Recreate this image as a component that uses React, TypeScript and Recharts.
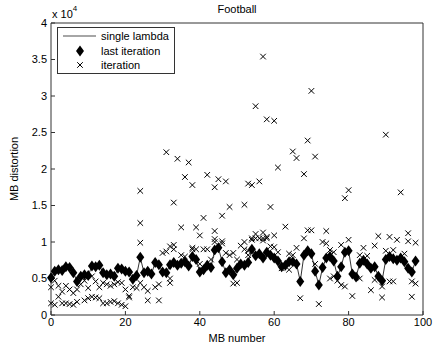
import { ComposedChart, Line, Scatter, XAxis, YAxis } from 'recharts';

// MB distortion per macroblock (index = MB number)
const singleLambda = [
  5100, 6000, 6200, 6100, 6600, 6500, 5800, 4600, 5300, 5500,
  5400, 6700, 6600, 6800, 5800, 5500, 5600, 5300, 6400, 6300,
  6000, 5900, 4900, 5400, 7900, 5800, 6000, 5600, 7200, 6900,
  5900, 5800, 6900, 7200, 6800, 7100, 7300, 6700, 8000, 7600,
  5900, 6200, 6800, 6500, 8900, 9200, 7300, 5800, 6200, 5500,
  6400, 7000, 6800, 7200, 9000, 8100, 8400, 7800, 8600, 8200,
  7800, 7400, 6600, 6800, 7300, 7300, 7000, 4600, 8200, 8800,
  8400, 6000, 4100, 6500, 7800, 8000, 7400, 5300, 6600, 8600,
  8800, 5600, 5200, 7100, 7500, 7000, 6400, 6600, 5300, 4700,
  7600, 8000, 7700, 7500, 7800, 7300, 6400, 5900, 7400,
];

// last iteration sits on the single lambda curve
const lastIteration = singleLambda;

// [MB number, distortion] for the intermediate iterations
const iterationPoints: [number, number][] = [
  [24, 17000], [24, 12600], [24, 9900], [31, 22300], [31, 8700], [33, 15400],
  [32, 9400], [33, 9000], [34, 21400], [35, 12000], [36, 18900], [37, 20900],
  [38, 17800], [38, 9000], [39, 9000], [39, 12000], [40, 10900], [41, 13300],
  [42, 19200], [42, 9000], [44, 17500], [44, 11500], [44, 10400], [45, 18600],
  [46, 13600], [46, 10100], [47, 18300], [48, 14800], [48, 8200], [52, 15100],
  [52, 10000], [53, 18000], [53, 8800], [54, 17800], [54, 10300], [55, 28600],
  [55, 10500], [56, 18300], [57, 35400], [57, 11300], [57, 10500], [58, 26800],
  [58, 10500], [59, 14800], [60, 26600], [60, 10900], [61, 20200], [63, 12100],
  [65, 22400], [66, 21500], [66, 9200], [68, 19300], [68, 10500], [69, 23900],
  [69, 11600], [70, 30700], [70, 11600], [71, 21700], [73, 10000], [74, 9800],
  [74, 11500], [78, 9600], [79, 16000], [80, 17100], [80, 10300], [84, 9200],
  [87, 9500], [88, 10800], [90, 24700], [91, 10700], [93, 10300], [94, 16800],
  [96, 11200], [96, 10100], [98, 9900],
  [30, 8500], [33, 9600], [38, 9200], [41, 9000], [44, 10000], [46, 9800],
  [47, 8500], [49, 8500], [51, 9500], [52, 9000], [54, 10500], [55, 11100],
  [56, 10500], [57, 10200], [58, 10700], [60, 9300],
  [35, 8200], [36, 8000], [40, 7000], [43, 7600], [50, 7600], [53, 8200],
  [59, 9400], [61, 8600], [64, 8400], [65, 8200], [71, 7000], [75, 8900],
  [76, 8600], [83, 8200], [85, 8100], [90, 8800], [92, 8900], [95, 8400],
  [0, 1600], [1, 1400], [2, 2500], [3, 1600], [4, 1600], [5, 1500], [6, 1400],
  [7, 1800], [9, 2000], [10, 2300], [11, 2500], [12, 2400], [13, 2300],
  [14, 1600], [15, 1600], [16, 1800], [17, 1900], [18, 1600], [19, 1400],
  [20, 1200], [21, 2400], [26, 2000], [29, 2000],
  [0, 3800], [1, 4700], [2, 4000], [3, 3200], [4, 4000], [5, 3500], [6, 3000],
  [7, 3500], [8, 4200], [9, 4700], [10, 3700], [11, 5300], [12, 4600],
  [13, 3800], [14, 4400], [15, 4200], [16, 4000], [17, 4200], [18, 4500],
  [19, 4400], [20, 3500], [21, 2600], [22, 3800], [23, 3700], [24, 4400],
  [25, 3800], [26, 3300], [28, 3800], [29, 4200], [32, 4400], [32, 5000],
  [49, 4300], [50, 4400], [62, 6400], [64, 6200], [67, 2300], [72, 1500],
  [75, 5000], [76, 5300], [77, 4700], [78, 4100], [79, 3900], [81, 2600],
  [83, 5000], [86, 3400], [87, 4800], [89, 2400], [89, 3900], [91, 4600],
  [92, 4600], [97, 2500], [97, 4600], [98, 4300],
];

const xTicks = [0, 20, 40, 60, 80, 100];
const yTicks = [0, 5000, 10000, 15000, 20000, 25000, 30000, 35000, 40000];

const bandRows = singleLambda.map((v, i) => ({ mb: i, single: v, last: lastIteration[i] }));
const iterRows = iterationPoints.map(([mb, v]) => ({ mb, iter: v }));

const font = '"Liberation Sans", Arial, sans-serif';
const axisColor = '#333';

const Diamond = (p: any) => (
  <path
    d={`M${p.cx},${p.cy - 5.5}L${p.cx + 4},${p.cy}L${p.cx},${p.cy + 5.5}L${p.cx - 4},${p.cy}Z`}
    fill="#000"
  />
);

const XMark = (p: any) => (
  <path
    d={`M${p.cx - 2.8},${p.cy - 2.8}L${p.cx + 2.8},${p.cy + 2.8}M${p.cx - 2.8},${p.cy + 2.8}L${p.cx + 2.8},${p.cy - 2.8}`}
    stroke="#000"
    strokeWidth={1}
    fill="none"
  />
);

export default function App() {
  return (
    <div style={{ position: 'absolute', left: 0, top: 0, width: 433, height: 349, background: '#fff', fontFamily: font }}>
      <ComposedChart width={433} height={349} data={bandRows} margin={{ top: 22, right: 9, bottom: 14, left: 0 }}>
        <XAxis
          xAxisId="b"
          dataKey="mb"
          type="number"
          domain={[0, 100]}
          ticks={xTicks}
          tickSize={-4}
          tickMargin={7}
          height={20}
          stroke={axisColor}
          tick={{ fill: '#000', fontSize: 11, fontFamily: font }}
        />
        <XAxis
          xAxisId="t"
          orientation="top"
          dataKey="mb"
          type="number"
          domain={[0, 100]}
          ticks={xTicks}
          tickSize={-4}
          height={1}
          stroke={axisColor}
          tick={false}
        />
        <YAxis
          yAxisId="l"
          type="number"
          domain={[0, 40000]}
          ticks={yTicks}
          tickFormatter={(v: number) => String(v / 10000)}
          tickSize={-4}
          tickMargin={8}
          width={51}
          stroke={axisColor}
          tick={{ fill: '#000', fontSize: 11, fontFamily: font }}
        />
        <YAxis
          yAxisId="r"
          orientation="right"
          type="number"
          domain={[0, 40000]}
          ticks={yTicks}
          tickSize={-4}
          width={1}
          stroke={axisColor}
          tick={false}
        />
        <Line
          xAxisId="b"
          yAxisId="l"
          dataKey="single"
          stroke="#000"
          strokeWidth={0.8}
          dot={false}
          isAnimationActive={false}
        />
        <Scatter xAxisId="b" yAxisId="l" data={iterRows} dataKey="iter" shape={XMark} isAnimationActive={false} />
        <Scatter xAxisId="b" yAxisId="l" data={bandRows} dataKey="last" shape={Diamond} isAnimationActive={false} />
      </ComposedChart>

      {/* title, exponent and axis labels */}
      <div style={{ position: 'absolute', left: 0, width: 474, top: 3, textAlign: 'center', fontSize: 11 }}>Football</div>
      <div style={{ position: 'absolute', left: 52, top: 8, fontSize: 11 }}>
        x 10<sup style={{ fontSize: 8, verticalAlign: 'top', position: 'relative', top: -4 }}>4</sup>
      </div>
      <div style={{ position: 'absolute', left: 0, width: 474, top: 332, textAlign: 'center', fontSize: 11 }}>MB number</div>
      <div
        style={{
          position: 'absolute',
          left: 14,
          top: 169,
          fontSize: 11,
          whiteSpace: 'nowrap',
          transform: 'translate(-50%, -50%) rotate(-90deg)',
        }}
      >
        MB distortion
      </div>

      {/* legend */}
      <svg style={{ position: 'absolute', left: 57, top: 27 }} width={119} height={48}>
        <rect x={0.5} y={0.5} width={117} height={46} fill="#fff" stroke={axisColor} />
        <line x1={6} x2={39} y1={9} y2={9} stroke="#000" strokeWidth={0.7} />
        <Diamond cx={23} cy={24} />
        <XMark cx={23} cy={38} />
        <text x={44} y={13} fontSize={11} fontFamily={font}>single lambda</text>
        <text x={44} y={28} fontSize={11} fontFamily={font}>last iteration</text>
        <text x={44} y={42} fontSize={11} fontFamily={font}>iteration</text>
      </svg>
    </div>
  );
}
